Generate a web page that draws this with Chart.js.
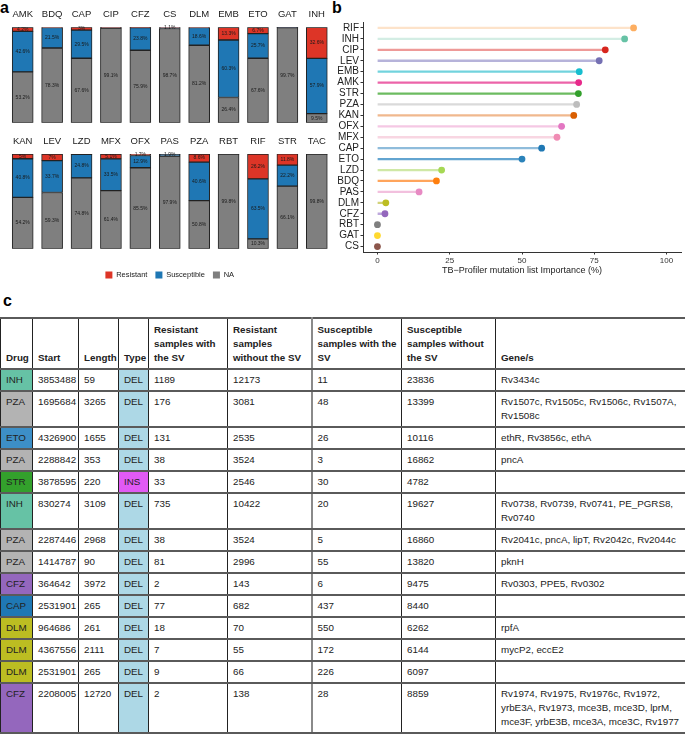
<!DOCTYPE html>
<html><head><meta charset="utf-8">
<script src="https://cdn.jsdelivr.net/npm/chart.js@4.4.1/dist/chart.umd.min.js"></script>
<style>
html,body{margin:0;padding:0;background:#fff;width:685px;height:739px;overflow:hidden;font-family:"Liberation Sans",Arial,sans-serif;}
canvas{position:absolute;}
.lab{position:absolute;font-weight:bold;font-size:16px;line-height:16px;color:#000;}
table{position:absolute;left:0;top:317px;width:685px;border-collapse:collapse;table-layout:fixed;font-size:9.8px;color:#222;}
td,th{border-left:1px solid #222;border-right:1px solid #222;border-top:2px solid #5a5a5a;border-bottom:2px solid #5a5a5a;padding:3px 3px 3px 5px;line-height:14px;vertical-align:top;text-align:left;overflow:hidden;white-space:normal;color:#222;}
th{font-weight:bold;vertical-align:bottom;padding:4px 3px 3px 5px;}
td.gene{padding-right:1px;}
.gsep{border-right:2px solid #8a8a8a;}
</style></head>
<body>
<div class="lab" style="left:0;top:0">a</div>
<div class="lab" style="left:332px;top:0">b</div>
<div class="lab" style="left:3px;top:293px">c</div>
<canvas id="rowA1" width="340" height="130" style="left:0;top:0"></canvas>
<canvas id="rowA2" width="340" height="160" style="left:0;top:130px"></canvas>
<canvas id="lolli" width="355" height="276" style="left:330px;top:0"></canvas>
<table id="svTable"></table>
<script>
// ---------- Panel a data ----------
const drugsRow1 = ['AMK','BDQ','CAP','CIP','CFZ','CS','DLM','EMB','ETO','GAT','INH'];
const resistantRow1 = [4.2, 0.2, 3, 0.5, 0.3, 0.2, 0.2, 13.3, 6.7, 0.1, 32.6];
const susceptibleRow1 = [42.6, 21.5, 29.5, 0.4, 23.8, 1.1, 18.6, 60.3, 25.7, 0.2, 57.9];
const naRow1 = [53.2, 78.3, 67.6, 99.1, 75.9, 98.7, 81.2, 26.4, 67.6, 99.7, 9.5];

const drugsRow2 = ['KAN','LEV','LZD','MFX','OFX','PAS','PZA','RBT','RIF','STR','TAC'];
const resistantRow2 = [5, 7, 0.4, 5.1, 1.7, 0.2, 8.6, 0.1, 26.2, 11.8, 0.1];
const susceptibleRow2 = [40.8, 33.7, 24.8, 33.5, 12.9, 1.9, 40.6, 0.1, 63.5, 22.2, 0.1];
const naRow2 = [54.2, 59.3, 74.8, 61.4, 85.5, 97.9, 50.8, 99.8, 10.3, 66.1, 99.8];

const statusLabels = ['Resistant', 'Susceptible', 'NA'];

// ---------- Panel b data ----------
const importanceDrugs = ['RIF','INH','CIP','LEV','EMB','AMK','STR','PZA','KAN','OFX','MFX','CAP','ETO','LZD','BDQ','PAS','DLM','CFZ','RBT','GAT','CS'];
const importanceValues = [88.6, 85.5, 78.8, 76.7, 69.8, 69.6, 69.5, 68.9, 67.9, 63.7, 62.1, 56.8, 50.0, 22.2, 20.4, 14.4, 2.9, 2.6, 0, 0, 0];
const importanceTicks = [0, 25, 50, 75, 100];

// ---------- Panel c data ----------
const svColumns = ['Drug','Start','Length','Type','Resistant samples with the SV','Resistant samples without the SV','Susceptible samples with the SV','Susceptible samples without the SV','Gene/s'];
const svDrug = ['INH','PZA','ETO','PZA','STR','INH','PZA','PZA','CFZ','CAP','DLM','DLM','DLM','CFZ'];
const svStart = [3853488,1695684,4326900,2288842,3878595,830274,2287446,1414787,364642,2531901,964686,4367556,2531901,2208005];
const svLength = [59,3265,1655,353,220,3109,2968,90,3972,265,261,2111,265,12720];
const svType = ['DEL','DEL','DEL','DEL','INS','DEL','DEL','DEL','DEL','DEL','DEL','DEL','DEL','DEL'];
const resWithSV = [1189,176,131,38,33,735,38,81,2,77,18,7,9,2];
const resWithoutSV = [12173,3081,2535,3524,2546,10422,3524,2996,143,682,70,55,66,138];
const suscWithSV = [11,48,26,3,30,20,5,55,6,437,550,172,226,28];
const suscWithoutSV = [23836,13399,10116,16862,4782,19627,16860,13820,9475,8440,6262,6144,6097,8859];
const svGenes = ['Rv3434c','Rv1507c, Rv1505c, Rv1506c, Rv1507A, Rv1508c','ethR, Rv3856c, ethA','pncA','','Rv0738, Rv0739, Rv0741, PE_PGRS8, Rv0740','Rv2041c, pncA, lipT, Rv2042c, Rv2044c','pknH','Rv0303, PPE5, Rv0302','','rpfA','mycP2, eccE2','','Rv1974, Rv1975, Rv1976c, Rv1972, yrbE3A, Rv1973, mce3B, mce3D, lprM, mce3F, yrbE3B, mce3A, mce3C, Rv1977'];

// ---------- Styles ----------
const FAMILY = '"Liberation Sans", Arial, sans-serif';
Chart.defaults.font.family = FAMILY;
const statusColors = {Resistant:'#dd3527', Susceptible:'#1f77b4', NA:'#7f7f7f'};
const dotPalette = {RIF:'#fdae61',INH:'#66c2a5',CIP:'#d7261e',LEV:'#7570b3',EMB:'#17becf',AMK:'#e7298a',STR:'#33a02c',PZA:'#bdbdbd',KAN:'#d95f02',OFX:'#e377c2',MFX:'#f08cb4',CAP:'#1f78b4',ETO:'#2b83ba',LZD:'#a6d854',BDQ:'#ff7f0e',PAS:'#e78ac3',DLM:'#bcbd22',CFZ:'#9467bd',RBT:'#7f7f7f',GAT:'#ffd92f',CS:'#8c564b'};
const stemPalette = {RIF:'#fde3ca',INH:'#d3ede4',CIP:'#ee9a98',LEV:'#b6b3da',EMB:'#72d3dd',AMK:'#ec64a9',STR:'#6cbb60',PZA:'#dadada',KAN:'#f0b88e',OFX:'#f5c8e4',MFX:'#f8d6e2',CAP:'#8fbcdb',ETO:'#62a4d0',LZD:'#cfe8a6',BDQ:'#ffa55c',PAS:'#f2c0de',DLM:'#d2d27a',CFZ:'#bda8dc',RBT:'#aaaaaa',GAT:'#ffe680',CS:'#b98f86'};
const tableDrugColors = {INH:'#66c2a5',PZA:'#b3b3b3',ETO:'#3d8fc7',STR:'#33a02c',CFZ:'#9467bd',CAP:'#1f78b4',DLM:'#bcbd22'};
const tableTypeColors = {DEL:'#add8e6',INS:'#e15af5'};

function fmtPct(v){ return (Number.isInteger(v) ? String(v) : v.toFixed(1)) + '%'; }

const pctLabelPlugin = {
  id: 'pctLabels',
  afterDatasetsDraw(chart) {
    const ctx = chart.ctx;
    ctx.save();
    ctx.font = '5px ' + FAMILY;
    ctx.fillStyle = '#1a1a1a';
    ctx.textAlign = 'center';
    ctx.textBaseline = 'middle';
    chart.data.datasets.forEach((ds, di) => {
      const meta = chart.getDatasetMeta(di);
      meta.data.forEach((bar, i) => {
        const v = ds.data[i];
        if (v < 1) return;
        const p = bar.getProps(['x','y','base'], true);
        ctx.fillText(fmtPct(v), p.x, (p.y + p.base) / 2);
      });
    });
    ctx.restore();
  }
};

// Datasets in stacking order (NA bottom, Susceptible, Resistant top); legend reversed to read R, S, NA
function stackChart(id, labels, res, sus, na, withLegend, padTop, padBottom) {
  const dsStyle = {barThickness:21, borderWidth:1, borderColor:'#222', borderSkipped:false};
  return new Chart(document.getElementById(id), {
    type: 'bar',
    data: {
      labels: labels,
      datasets: [
        Object.assign({label: statusLabels[2], data: na, backgroundColor: statusColors.NA}, dsStyle),
        Object.assign({label: statusLabels[1], data: sus, backgroundColor: statusColors.Susceptible}, dsStyle),
        Object.assign({label: statusLabels[0], data: res, backgroundColor: statusColors.Resistant}, dsStyle)
      ]
    },
    options: {
      responsive: false, animation: false,
      layout: {padding: {left: 8, right: 8.5, top: padTop, bottom: padBottom}},
      plugins: {
        tooltip: {enabled: false},
        legend: withLegend ? {
          display: true, position: 'bottom', reverse: true,
          title: {display: true, text: '', font: {size: 2}, padding: {top: 12.15, bottom: 0}},
          labels: {boxWidth: 7, boxHeight: 7, padding: 8, color: '#222', font: {size: 7.5, family: FAMILY},
                   generateLabels: (ch) => Chart.defaults.plugins.legend.labels.generateLabels(ch).map(l => Object.assign(l, {strokeStyle: 'rgba(0,0,0,0)', lineWidth: 0}))}
        } : {display: false}
      },
      scales: {
        x: {
          position: 'top', stacked: true, offset: true,
          grid: {display: false, drawTicks: false}, border: {display: false},
          ticks: {font: {size: 9.5, family: FAMILY}, color: '#1a1a1a', padding: 7, autoSkip: false, maxRotation: 0},
          afterFit: s => { s.height = 20; }
        },
        y: {stacked: true, display: false, min: 0, max: 100}
      }
    },
    plugins: [pctLabelPlugin]
  });
}

stackChart('rowA1', drugsRow1, resistantRow1, susceptibleRow1, naRow1, false, 7.3, 7.3);
stackChart('rowA2', drugsRow2, resistantRow2, susceptibleRow2, naRow2, true, 4, 1.25);

// ---------- Panel b ----------
new Chart(document.getElementById('lolli'), {
  type: 'bar',
  data: {
    labels: importanceDrugs,
    datasets: [
      {type: 'line', indexAxis: 'y', data: importanceValues, showLine: false, pointRadius: 3.4, pointHoverRadius: 3.4,
       pointBackgroundColor: importanceDrugs.map(d => dotPalette[d]), pointBorderWidth: 0, order: 0},
      {type: 'bar', indexAxis: 'y', data: importanceValues, backgroundColor: importanceDrugs.map(d => stemPalette[d]),
       barThickness: 1.6, borderWidth: 0, order: 1}
    ]
  },
  options: {
    indexAxis: 'y', responsive: false, animation: false,
    layout: {padding: {left: 0, right: 4, top: 22.5, bottom: 0}},
    plugins: {legend: {display: false}, tooltip: {enabled: false}},
    scales: {
      x: {
        type: 'linear', min: -5, max: 105,
        afterBuildTicks: s => { s.ticks = importanceTicks.map(v => ({value: v})); },
        grid: {display: true, drawOnChartArea: false, drawTicks: true, tickLength: 2.5, color: '#333'},
        border: {display: true, color: '#333', width: 1},
        ticks: {font: {size: 8, family: FAMILY}, color: '#333', padding: 1, maxRotation: 0},
        title: {display: true, text: 'TB−Profiler mutation list Importance (%)', font: {size: 9, family: FAMILY}, color: '#222', padding: 0},
        afterFit: s => { s.height = 24; }
      },
      y: {
        type: 'category', offset: true,
        grid: {display: true, offset: false, drawOnChartArea: false, drawTicks: true, tickLength: 2.5, color: '#333'},
        border: {display: true, color: '#333', width: 1},
        ticks: {font: {size: 10, family: FAMILY}, color: '#222', padding: 1.5, autoSkip: false},
        afterFit: s => { s.width = 33; }
      }
    }
  }
});

// ---------- Panel c (table) ----------
(function buildTable(){
  const t = document.getElementById('svTable');
  const widths = [32, 46, 40, 30, 79, 84, 90, 94, 190];
  let html = '<colgroup>' + widths.map(w => '<col style="width:' + w + 'px">').join('') + '</colgroup>';
  html += '<tr>' + svColumns.map((c, i) => '<th' + (i === 5 ? ' class="gsep"' : '') + '>' + c + '</th>').join('') + '</tr>';
  for (let i = 0; i < svDrug.length; i++) {
    html += '<tr>' +
      '<td style="background:' + tableDrugColors[svDrug[i]] + '">' + svDrug[i] + '</td>' +
      '<td>' + svStart[i] + '</td>' +
      '<td>' + svLength[i] + '</td>' +
      '<td style="background:' + tableTypeColors[svType[i]] + '">' + svType[i] + '</td>' +
      '<td>' + resWithSV[i] + '</td>' +
      '<td class="gsep">' + resWithoutSV[i] + '</td>' +
      '<td>' + suscWithSV[i] + '</td>' +
      '<td>' + suscWithoutSV[i] + '</td>' +
      '<td class="gene">' + svGenes[i] + '</td>' +
      '</tr>';
  }
  t.innerHTML = html;
})();
</script>
</body></html>
